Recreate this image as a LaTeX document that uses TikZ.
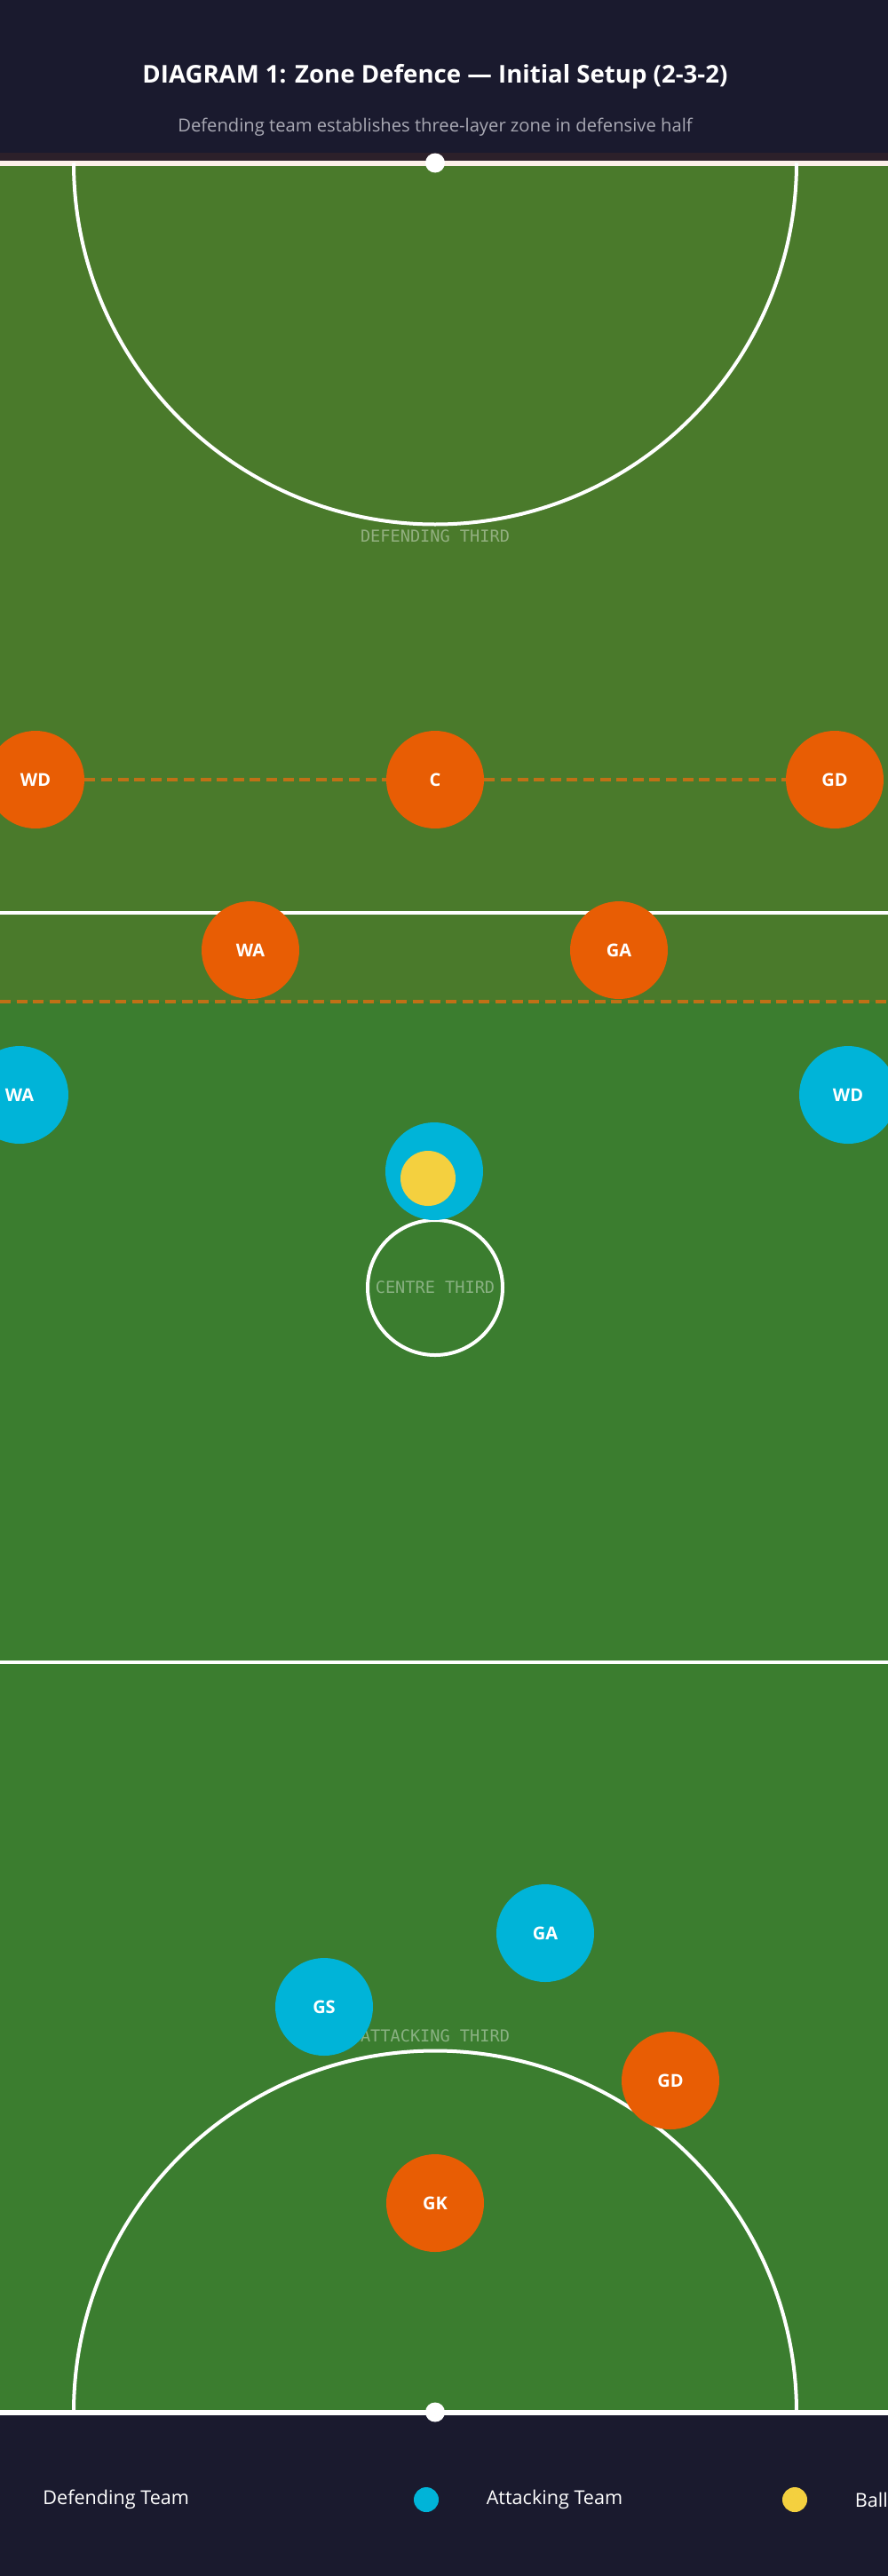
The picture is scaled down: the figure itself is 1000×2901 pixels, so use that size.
\documentclass[tikz,border=0pt]{standalone}
\usepackage{fontspec}
\setmainfont{Open Sans}
\newfontfamily\zonefont{DejaVu Sans Mono}
\usepackage{tikz}
\definecolor{navy}{HTML}{1A1A2E}
\definecolor{pitchgreen}{HTML}{3B7D2F}
\definecolor{deforange}{HTML}{E85D04}
\definecolor{zonebrown}{HTML}{C07016}
\definecolor{attcyan}{HTML}{00B4D8}
\definecolor{ballyellow}{HTML}{F4D03F}
\definecolor{subgrey}{HTML}{A9A9B4}
\usetikzlibrary{positioning}
\tikzstyle{defplayer} = [circle, fill=deforange, minimum size=55pt, inner sep=0pt,
text=white, font=\bfseries\fontsize{10}{12}\selectfont]
\tikzstyle{attplayer} = [circle, fill=attcyan, minimum size=55pt, inner sep=0pt,
text=white, font=\bfseries\fontsize{10}{12}\selectfont]
\tikzstyle{courtline} = [white, line width=2pt]
\tikzstyle{zoneline} = [zonebrown, line width=2pt, dash pattern=on 6pt off 3.3pt]
\tikzstyle{thirdlabel} = [text=white, text opacity=0.4, font=\zonefont\fontsize{9.3}{11}\selectfont]
\tikzstyle{legendtext} = [anchor=west, text=white, inner sep=0pt, font=\fontsize{10.8}{13}\selectfont]
\tikzstyle{legenddot} = [circle, minimum size=14pt, inner sep=0pt]
\tikzstyle{post} = [circle, fill=white, minimum size=11pt, inner sep=0pt]

\begin{document}
\begin{tikzpicture}[x=0.5pt, y=-0.5pt]
	\useasboundingbox (0,0) rectangle (1000,2901);
	\clip (0,0) rectangle (1000,2901);
	\fill[navy] (0,0) rectangle (1000,2901);
	\fill[pitchgreen] (0,183) rectangle (1000,2716);

	\node (Title) [text=white, font=\bfseries\fontsize{13.8}{16}\selectfont] at (490,86) {DIAGRAM 1: Zone Defence — Initial Setup (2-3-2)};
	\node (Subtitle) [text=subgrey, font=\fontsize{10.1}{12}\selectfont] at (490,143) {Defending team establishes three-layer zone in defensive half};

	\draw [courtline, line width=3pt] (0,183.5) -- (1000,183.5);
	\draw [courtline, line width=3pt] (0,2716.5) -- (1000,2716.5);
	\fill[deforange, opacity=0.09] (0,172) rectangle (1000,1128);
	\draw [courtline] (0,1028) -- (1000,1028);
	\draw [courtline] (0,1872) -- (1000,1872);
	\draw [courtline] (83,183.5) arc[start angle=180, end angle=0, radius=407];
	\draw [courtline] (83,2716.5) arc[start angle=180, end angle=360, radius=407];
	\node (TopPost) [post] at (490,183.5) {};
	\node (BottomPost) [post] at (490,2716.5) {};
	\node (CentreCircle) [circle, draw=white, line width=2pt, minimum size=76pt] at (490,1450) {};

	\node (DefLabel) [thirdlabel] at (490,604) {DEFENDING THIRD};
	\node (CentreLabel) [thirdlabel] at (CentreCircle) {CENTRE THIRD};
	\node (AttLabel) [thirdlabel] at (490,2293) {ATTACKING THIRD};

	\node (DefWD) [defplayer] at (40,878) {WD};
	\node (DefC) [defplayer] at (490,878) {C};
	\node (DefGD) [defplayer] at (940,878) {GD};
	\node (DefWA) [defplayer] at (282,1070) {WA};
	\node (DefGA) [defplayer] at (697,1070) {GA};
	\node (DefGDlow) [defplayer] at (755,2343) {GD};
	\node (DefGK) [defplayer] at (490,2481) {GK};

	\node (AttWA) [attplayer] at (22,1233) {WA};
	\node (AttWD) [attplayer] at (955,1233) {WD};
	\node (AttC) [attplayer] at (489,1319) {};
	\node (AttGA) [attplayer] at (614,2177) {GA};
	\node (AttGS) [attplayer] at (365,2260) {GS};
	\node (Ball) [circle, fill=ballyellow, minimum size=31pt, inner sep=0pt] at (482,1327) {};

	\coordinate (ZoneL) at (0,1128);
	\coordinate (ZoneR) at (1000,1128);
	\draw [zoneline] (DefWD) -- (DefC);
	\draw [zoneline] (DefC) -- (DefGD);
	\draw [zoneline] (ZoneL) -- (ZoneR);

	\node (LegDefText) [legendtext] at (48,2815) {Defending Team};
	\node (LegAtt) [legenddot, fill=attcyan] at (480,2815) {};
	\node (LegAttText) [legendtext, right=26.5pt of LegAtt] {Attacking Team};
	\node (LegBall) [legenddot, fill=ballyellow] at (895,2815) {};
	\node (LegBallText) [legendtext, right=26.5pt of LegBall] {Ball};
\end{tikzpicture}
\end{document}
